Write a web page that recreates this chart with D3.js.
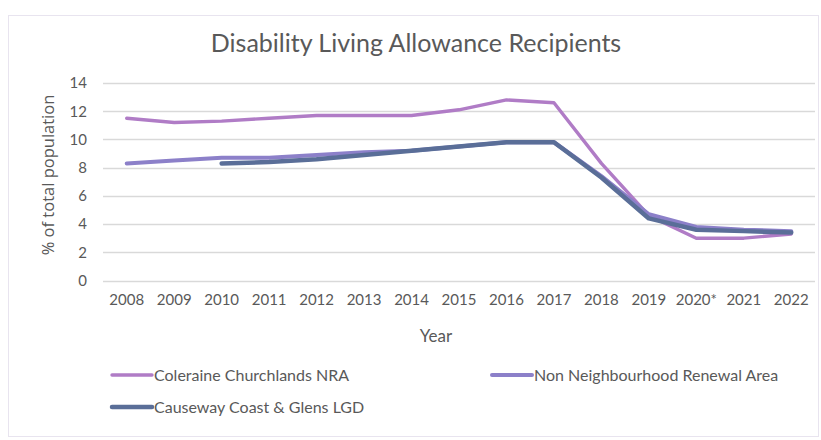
<!DOCTYPE html>
<html><head><meta charset="utf-8">
<script src="https://cdn.jsdelivr.net/npm/d3@7"></script>
<style>body{margin:0;background:#fff;}svg{display:block;}</style>
</head><body>
<svg id="c" width="821" height="440"></svg>
<script>
const years = ["2008","2009","2010","2011","2012","2013","2014","2015","2016","2017","2018","2019","2020*","2021","2022"];
const coleraine = [11.5,11.2,11.3,11.5,11.7,11.7,11.7,12.1,12.8,12.6,8.3,4.6,3.0,3.0,3.3];
const nonNRA = [8.3,8.5,8.7,8.7,8.9,9.1,9.2,9.5,9.8,9.8,7.4,4.7,3.8,3.6,3.5];
const causeway = [null,null,8.3,8.4,8.6,8.9,9.2,9.5,9.8,9.8,7.3,4.4,3.6,3.5,3.4];
const yTicks = [0,2,4,6,8,10,12,14];
const seriesNames = ["Coleraine Churchlands NRA","Non Neighbourhood Renewal Area","Causeway Coast & Glens LGD"];
const colors = ["#b07cc6","#8c80c9","#5a6e98"];
const widths = [3.4,4,4.5];

const svg = d3.select("#c");
const font = "Lato, 'Open Sans', sans-serif";
const tc = "#595959";

svg.append("rect").attr("x",8.5).attr("y",15.5).attr("width",810).attr("height",421)
  .attr("fill","#fff").attr("stroke","#e8e4ef").attr("stroke-width",1);

const x = d3.scaleBand().domain(years).range([103,815]);
const y = d3.scaleLinear().domain([0,14]).range([280.5,83]);

// grid
svg.append("g").selectAll("line").data(yTicks).join("line")
  .attr("x1",103).attr("x2",815).attr("y1",d=>Math.round(y(d))+0.5).attr("y2",d=>Math.round(y(d))+0.5)
  .attr("stroke","#d9d9d9").attr("stroke-width",1.3);

// y axis
const ya = svg.append("g").attr("transform","translate(87,0)")
  .call(d3.axisLeft(y).tickValues(yTicks).tickSize(0).tickPadding(0));
ya.select(".domain").remove();
ya.selectAll("text").attr("font-family",font).attr("font-size",15).attr("fill",tc);

// x axis
const xa = svg.append("g").attr("transform","translate(0,290)")
  .call(d3.axisBottom(x).tickSize(0).tickPadding(4));
xa.select(".domain").remove();
xa.selectAll("text").attr("font-family",font).attr("font-size",15).attr("fill",tc);

// titles
svg.append("text").attr("x",416).attr("y",52).attr("text-anchor","middle")
  .attr("font-family",font).attr("font-size",25).attr("fill",tc).text("Disability Living Allowance Recipients");
svg.append("text").attr("x",436).attr("y",342).attr("text-anchor","middle")
  .attr("font-family",font).attr("font-size",17).attr("fill",tc).text("Year");
svg.append("text").attr("transform","translate(54,175) rotate(-90)").attr("text-anchor","middle")
  .attr("font-family","'Open Sans', sans-serif").attr("font-size",16.5).attr("fill",tc).text("% of total population");

// lines
const data = [coleraine, nonNRA, causeway];
const line = d3.line().defined(d=>d.v!=null).x(d=>x(d.k)+x.bandwidth()/2).y(d=>y(d.v));
[0,1,2].forEach(i=>{
  svg.append("path").datum(years.map((k,j)=>({k,v:data[i][j]})))
    .attr("d",line).attr("fill","none").attr("stroke",colors[i]).attr("stroke-width",widths[i])
    .attr("stroke-linejoin","round").attr("stroke-linecap","round");
});

// legend
const leg = [{i:0,x:112,y:375},{i:1,x:492,y:375},{i:2,x:112,y:407}];
leg.forEach(l=>{
  svg.append("line").attr("x1",l.x).attr("x2",l.x+40).attr("y1",l.y).attr("y2",l.y)
    .attr("stroke",colors[l.i]).attr("stroke-width",widths[l.i]).attr("stroke-linecap","round");
  svg.append("text").attr("x",l.x+42).attr("y",l.y+5.5).attr("font-family",font).attr("font-size",16)
    .attr("fill",tc).text(seriesNames[l.i]);
});
</script>
</body></html>
